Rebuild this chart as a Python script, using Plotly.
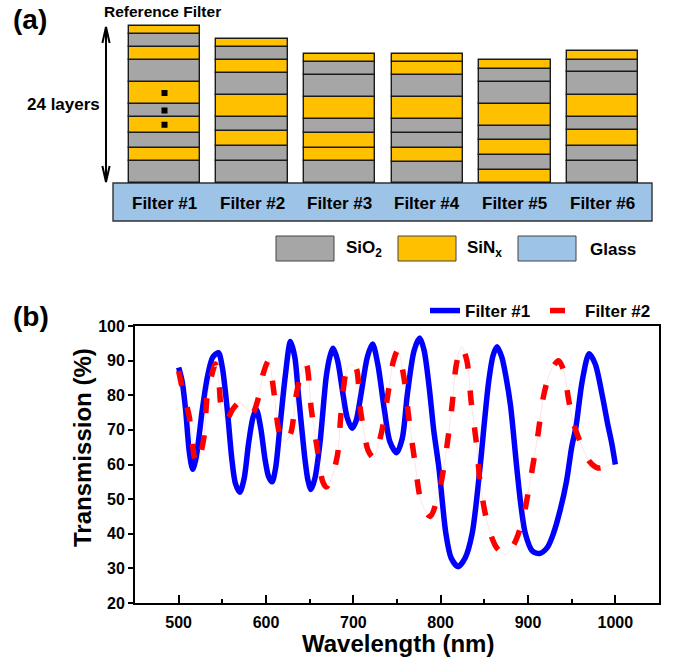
import numpy as np
import plotly.graph_objects as go

# ---------------- data ----------------
FILTERS = ["Filter #1", "Filter #2", "Filter #3", "Filter #4", "Filter #5", "Filter #6"]

# layer stacks, listed from the glass upward; 'S' = SiO2, 'N' = SiNx ; thickness in drawing units
F1_MAT = ["S", "N", "S", "N", "S", "N", "S", "N", "S", "N"]
F1_THK = [22, 13, 15.5, 15.5, 13, 22, 22, 13, 13, 8]
F2_MAT = ["S", "S", "N", "S", "N", "S", "N", "S", "N"]
F2_THK = [22, 15, 15, 14, 22, 22, 13, 13, 8]
F3_MAT = ["S", "N", "N", "S", "N", "S", "S", "N"]
F3_THK = [22, 13, 15.5, 13.5, 22, 22, 13, 8]
F4_MAT = ["S", "N", "S", "S", "N", "S", "N", "N"]
F4_THK = [21.5, 13.5, 15, 14, 22, 22, 13, 8]
F5_MAT = ["N", "S", "N", "S", "N", "S", "S", "N"]
F5_THK = [13.3, 15, 15, 13.3, 22.4, 21.6, 13.4, 9.3]
F6_MAT = ["S", "S", "N", "S", "N", "S", "S", "N"]
F6_THK = [22.3, 15, 15.3, 13.4, 22.3, 22.3, 12.7, 9]

MATERIAL_LABELS = ["SiO<sub>2</sub>", "SiN<sub>x</sub>", "Glass"]

# transmission spectra
WL_1 = [500, 504, 508, 512, 516, 520, 527, 533, 539, 545.5, 550, 555.7, 561, 565, 570, 575, 580, 585,
        589, 594, 599, 603, 607, 611, 616, 622, 628, 633, 637, 644.7, 648, 651.5, 656, 661.7, 669, 673,
        677, 682, 688, 693, 698.5, 703, 709, 716, 722, 728, 735.6, 742, 749.6, 756, 762, 769.7, 776,
        781, 787, 792, 798, 806, 812, 820, 828, 836, 845, 850, 855, 860, 864.5, 870, 875, 880, 887,
        892, 897, 905, 913, 922, 929, 937, 944, 950, 955, 962, 970, 977, 985, 991, 996, 1000]
T_1 = [88, 84, 75.7, 64, 58.6, 62, 75.7, 85.4, 91, 92.3, 88, 75.7, 61.3, 54.5, 52, 56, 66, 73.5,
       75.9, 70.5, 61.3, 56.5, 55, 59, 71, 85.4, 95.5, 91, 80.6, 61.3, 55.5, 52.8, 56, 66, 85.4, 91,
       93.6, 90, 80.6, 73.5, 70.5, 72.5, 80.6, 91, 94.8, 89, 75.7, 66.5, 63.4, 67.5, 80.6, 93, 96.5,
       93, 82, 70, 59, 40, 33, 30.5, 33, 40, 59, 72, 84, 91.5, 94, 91, 85, 77, 59.4,
       48, 40, 35, 34.3, 36, 40, 47, 55, 65, 71, 84, 92, 89, 80, 72, 66, 60]

WL_2 = [500, 505, 512, 518, 521, 525, 529, 533, 538, 542, 546, 549, 555, 562, 570, 578, 585, 591,
        597, 603, 609, 615, 621, 628, 635, 641, 646, 652, 659, 665, 669, 675, 682, 686, 692, 697,
        703, 708, 717, 723, 732, 740, 746, 751, 758, 764, 770.5, 778, 788, 799, 807, 813, 818, 824,
        830, 835, 841, 845.5, 854.5, 864, 874, 884, 894, 903, 911, 918, 926, 935, 941, 946.6, 952,
        959, 970, 980, 990, 1000]
T_2 = [87, 81, 74, 62, 60, 63, 68, 80.6, 86, 89, 84, 76, 73, 76, 78, 76, 75, 79,
       86.4, 90, 81, 69.5, 66.5, 68.8, 80.6, 87, 89, 75.7, 64, 55, 53.5, 56, 63, 75, 87, 89,
       88, 76, 64, 62, 69, 81, 90, 93, 85, 72.5, 60.7, 49, 45, 53, 65, 77, 89, 94,
       90, 78, 66, 54, 42, 36, 34, 37, 44, 56, 68, 80, 87, 90, 87, 78.6, 72,
       67, 61, 59, 59.5, 61]

X_TICKS = [500, 600, 700, 800, 900, 1000]
Y_TICKS = [20, 30, 40, 50, 60, 70, 80, 90, 100]

# ---------------- styling ----------------
W, H = 679, 662
FONT = "Liberation Sans"
GRAY = "#A6A6A6"
YELLOW = "#FFC000"
GLASS = "#9DC3E6"
EDGE = "#1a1a1a"
COL = {"S": GRAY, "N": YELLOW}


def px(x):
    """page pixel -> paper fraction"""
    return x / W


def py(y):
    return 1 - y / H


fig = go.Figure()

# ----- panel (a): layer stacks as overlaid bars -----
STACKS = [(F1_MAT, F1_THK), (F2_MAT, F2_THK), (F3_MAT, F3_THK),
          (F4_MAT, F4_THK), (F5_MAT, F5_THK), (F6_MAT, F6_THK)]
for i, (mats, thk) in enumerate(STACKS):
    bases = np.concatenate([[0], np.cumsum(thk)[:-1]])
    fig.add_trace(go.Bar(
        x=[i] * len(thk), y=thk, base=bases, width=0.816,
        marker=dict(color=[COL[m] for m in mats], line=dict(color=EDGE, width=1.4)),
        xaxis="x2", yaxis="y2", showlegend=False, hoverinfo="skip"))

# ellipsis dots on the reference filter (centres of its middle layers)
b1 = np.concatenate([[0], np.cumsum(F1_THK)])
dot_y = [(b1[k] + b1[k + 1]) / 2 for k in (3, 4, 5)]
fig.add_trace(go.Scatter(x=[0, 0, 0], y=dot_y, mode="markers",
                         marker=dict(symbol="square", size=6, color="black"),
                         xaxis="x2", yaxis="y2", showlegend=False, hoverinfo="skip"))

# ----- panel (b): spectra -----
fig.add_trace(go.Scatter(x=WL_1, y=T_1, mode="lines", name="Filter #1", legend="legend",
                         line=dict(color="#0000FF", width=5.5, shape="spline", smoothing=0.8)))
fig.add_trace(go.Scatter(x=WL_2, y=T_2, mode="lines", showlegend=False, hoverinfo="skip",
                         line=dict(color="rgba(255,80,80,0.16)", width=1, shape="spline", smoothing=0.8)))
fig.add_trace(go.Scatter(x=WL_2, y=T_2, mode="lines", name="Filter #2", legend="legend2",
                         line=dict(color="#FF0000", width=5.5, dash="15px,22px",
                                   shape="spline", smoothing=0.8)))

shapes = []
# glass substrate
shapes.append(dict(type="rect", xref="paper", yref="paper", x0=px(113), x1=px(652),
                   y0=py(221), y1=py(183), fillcolor=GLASS, line=dict(color="#333333", width=1.4),
                   layer="below"))
# material legend boxes
for x0, x1, c in [(276, 334, GRAY), (398, 456, YELLOW), (518, 576, GLASS)]:
    shapes.append(dict(type="rect", xref="paper", yref="paper", x0=px(x0), x1=px(x1),
                       y0=py(261), y1=py(236), fillcolor=c, line=dict(color="#444444", width=1)))
# double-headed arrow
ax = 106
shapes.append(dict(type="path", xref="paper", yref="paper",
                   path=f"M{px(ax)},{py(28)} L{px(ax)},{py(181)}",
                   line=dict(color="black", width=2)))
shapes.append(dict(type="path", xref="paper", yref="paper",
                   path=f"M{px(ax-3.6)},{py(43)} L{px(ax)},{py(27)} L{px(ax+3.6)},{py(43)}",
                   line=dict(color="black", width=2)))
shapes.append(dict(type="path", xref="paper", yref="paper",
                   path=f"M{px(ax-3.6)},{py(166)} L{px(ax)},{py(182)} L{px(ax+3.6)},{py(166)}",
                   line=dict(color="black", width=2)))

ann = []
bold = dict(family=FONT, color="black", weight="bold")
ann.append(dict(text="(a)", x=px(11), y=py(20), xref="paper", yref="paper", xanchor="left",
                yanchor="middle", showarrow=False, font=dict(size=28, **bold)))
ann.append(dict(text="(b)", x=px(11), y=py(316), xref="paper", yref="paper", xanchor="left",
                yanchor="middle", showarrow=False, font=dict(size=28, **bold)))
ann.append(dict(text="Reference Filter", x=px(162), y=py(11), xref="paper", yref="paper",
                xanchor="center", yanchor="middle", showarrow=False, font=dict(size=15.5, **bold)))
ann.append(dict(text="24 layers", x=px(102), y=py(104), xref="paper", yref="paper",
                xanchor="right", yanchor="middle", showarrow=False, font=dict(size=17, **bold)))
for i, name in enumerate(FILTERS):
    ann.append(dict(text=name, x=i, y=-20, xref="x2", yref="y2", xanchor="center",
                    yanchor="middle", showarrow=False, font=dict(size=17, **bold)))
for xl, lab in zip([344, 465, 588], MATERIAL_LABELS):
    ann.append(dict(text=lab, x=px(xl), y=py(249), xref="paper", yref="paper", xanchor="left",
                    yanchor="middle", showarrow=False, font=dict(size=17, **bold)))
ann.append(dict(text="Transmission (%)", x=px(82), y=py(448), xref="paper", yref="paper",
                textangle=-90, xanchor="center", yanchor="middle", showarrow=False,
                font=dict(size=24, **bold)))
ann.append(dict(text="Wavelength (nm)", x=px(398), y=py(643), xref="paper", yref="paper",
                xanchor="center", yanchor="middle", showarrow=False, font=dict(size=24, **bold)))

legend_style = dict(orientation="v", xanchor="left", yanchor="middle", y=py(311),
                    bgcolor="rgba(0,0,0,0)", font=dict(size=17, **bold), borderwidth=0,
                    itemwidth=30)

fig.update_layout(
    width=W, height=H, margin=dict(l=0, r=0, t=0, b=0, autoexpand=False),
    paper_bgcolor="white", plot_bgcolor="white",
    barmode="overlay", bargap=0,
    shapes=shapes, annotations=ann,
    font=dict(family=FONT, color="black"),
    xaxis=dict(domain=[px(135), px(659)], anchor="y", range=[450, 1050],
               tickvals=X_TICKS, ticks="inside", ticklen=8, tickwidth=1.8, tickcolor="black",
               minor=dict(dtick=50, tick0=450, ticks="inside", ticklen=4, tickwidth=1.5,
                          tickcolor="black"),
               showline=True, linecolor="black", linewidth=1.8, mirror=True,
               showgrid=False, zeroline=False, ticklabelstandoff=4,
               tickfont=dict(size=16, **bold)),
    yaxis=dict(domain=[py(603), py(326)], anchor="x", range=[20, 100],
               tickvals=Y_TICKS, ticks="outside", ticklen=5, tickwidth=1.8, tickcolor="black",
               showline=True, linecolor="black", linewidth=1.8, mirror=True,
               showgrid=False, zeroline=False, tickfont=dict(size=16, **bold)),
    xaxis2=dict(domain=[0, 1], anchor="y2", range=[-164.5 / 87.6, (W - 164.5) / 87.6],
                visible=False, fixedrange=True),
    yaxis2=dict(domain=[py(265), 1], anchor="x2", range=[183 - 265, 183],
                visible=False, fixedrange=True),
    legend=dict(x=px(425), **legend_style),
    legend2=dict(x=px(545), **legend_style),
    showlegend=True,
)

fig.write_html("out.html")
